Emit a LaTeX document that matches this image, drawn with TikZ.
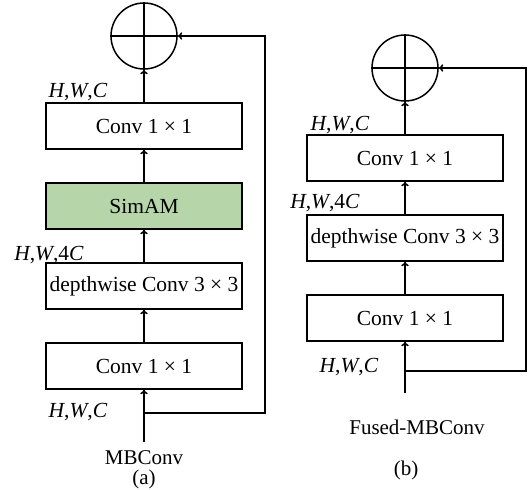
\documentclass[tikz,border=0pt]{standalone}
\usepackage{fontspec}
\setmainfont{Liberation Serif}
\usetikzlibrary{arrows.meta,positioning}
\definecolor{simgreen}{RGB}{182,214,170}

\begin{document}
\begin{tikzpicture}[x=1pt,y=-1pt,>={To[length=4.5pt,width=7.5pt]},line width=1.5pt,
                    node distance=32.5pt,
  block/.style={draw,minimum width=196pt,minimum height=46pt,inner sep=0pt,
                font=\fontsize{21.5}{24}\selectfont},
  sum/.style={draw,circle,minimum size=66pt,inner sep=0pt},
  dim/.style={font=\fontsize{21.5}{24}\selectfont},
  caption/.style={font=\fontsize{21}{24}\selectfont}]
  \useasboundingbox (0,0) rectangle (528,490);

  % (a) MBConv
  \node[block]                       (c1a)  at (144,366) {Conv 1 × 1};
  \node[block,above=of c1a]          (dwa)  {depthwise Conv 3 × 3};
  \node[block,fill=simgreen,above=of dwa] (sim) {SimAM};
  \node[block,above=of sim]          (c2a)  {Conv 1 × 1};
  \node[sum,above=of c2a]            (adda) {};
  \draw (adda.north) -- (adda.south) (adda.west) -- (adda.east);

  \coordinate (ina) at (144,442);
  \coordinate (spa) at (144,413);
  \coordinate (ra)  at (265,413);

  \draw[->] (ina) -- (c1a);
  \draw[->] (c1a) -- (dwa);
  \draw[->] (dwa) -- (sim);
  \draw[->] (sim) -- (c2a);
  \draw[->] (c2a) -- (adda);
  \draw[->] (spa) -- (ra) |- (adda);

  \node[dim] (hwca) at (78,92)  {\textit{H},\textit{W},\textit{C}};
  \node[dim] (hw4a) at (49,255) {\textit{H},\textit{W},4\textit{C}};
  \node[dim] (hwia) at (78,412) {\textit{H},\textit{W},\textit{C}};
  \node[caption] (mba)  at (144,458) {MBConv};
  \node[caption] (taga) at (144,479) {(a)};

  % (b) Fused-MBConv
  \node[block]                       (c1b)  at (405,318) {Conv 1 × 1};
  \node[block,above=of c1b]          (dwb)  {depthwise Conv 3 × 3};
  \node[block,above=of dwb]          (c2b)  {Conv 1 × 1};
  \node[sum,above=of c2b]            (addb) {};
  \draw (addb.north) -- (addb.south) (addb.west) -- (addb.east);

  \coordinate (inb) at (405,393);
  \coordinate (spb) at (405,371);
  \coordinate (rb)  at (526,371);

  \draw[->] (inb) -- (c1b);
  \draw[->] (c1b) -- (dwb);
  \draw[->] (dwb) -- (c2b);
  \draw[->] (c2b) -- (addb);
  \draw[->] (spb) -- (rb) |- (addb);

  \node[dim] (hwcb) at (340,125) {\textit{H},\textit{W},\textit{C}};
  \node[dim] (hw4b) at (325,203) {\textit{H},\textit{W},4\textit{C}};
  \node[dim] (hwib) at (349,367) {\textit{H},\textit{W},\textit{C}};
  \node[caption] (mbb)  at (417,427) {Fused-MBConv};
  \node[caption] (tagb) at (406,470) {(b)};
\end{tikzpicture}
\end{document}
